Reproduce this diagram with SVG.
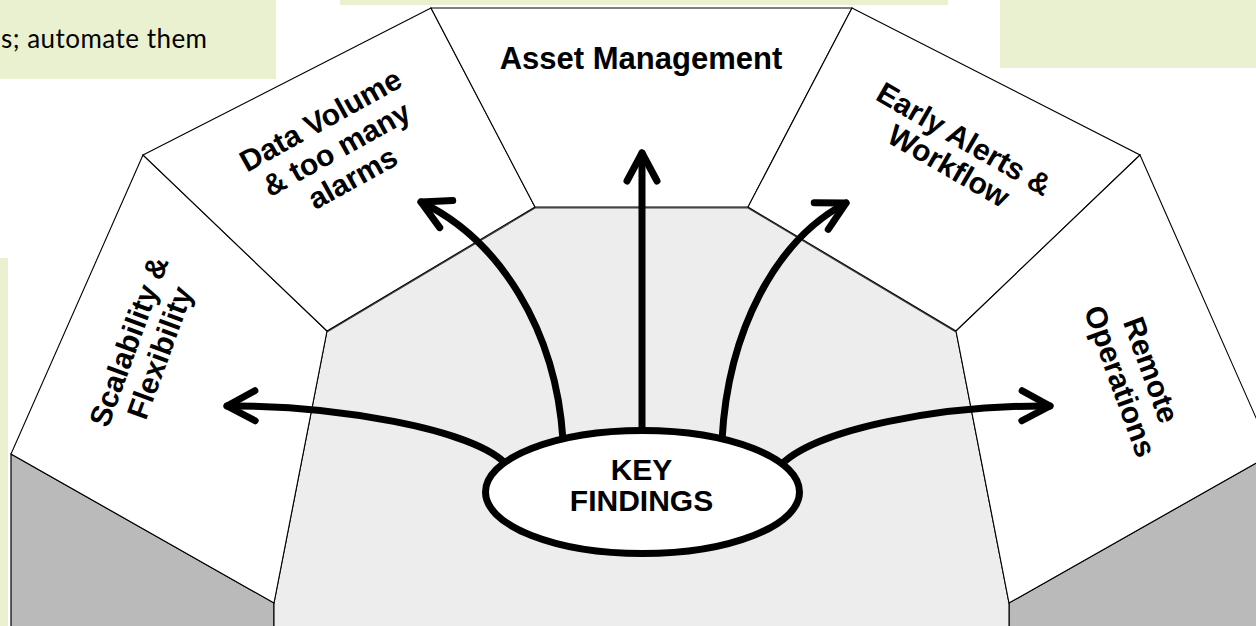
<svg xmlns="http://www.w3.org/2000/svg" width="1256" height="626" viewBox="0 0 1256 626">
  <defs>
    <style>
      .note { fill: #EAF1D0; }
      .note-text { font-family: Lato, "Open Sans", sans-serif; font-size: 26px; fill: #000; }
      .panel { fill: #fff; stroke: #000; stroke-width: 1.1; stroke-linejoin: miter; }
      .side { fill: #BABABA; stroke: #000; stroke-width: 1.2; }
      .floor { fill: #EDEDED; stroke: #000; stroke-width: 1.1; }
      .rim-dark { fill: none; stroke: #404040; stroke-width: 3; }
      .rim-light { fill: none; stroke: #cfcfcf; stroke-width: 1; }
      .label { font-family: "Liberation Sans", Arial, sans-serif; font-weight: bold; font-size: 30px; fill: #000; text-anchor: middle; }
      .arrow { fill: none; stroke: #000; stroke-width: 7; stroke-linecap: round; stroke-linejoin: round; marker-end: url(#head); }
      .hub { fill: #fff; stroke: #000; stroke-width: 7; }
    </style>
    <!-- open chevron arrowhead -->
    <marker id="head" markerUnits="userSpaceOnUse" orient="auto" overflow="visible" markerWidth="40" markerHeight="40" refX="0" refY="0">
      <path d="M-28,-15 L0,0 L-28,15" fill="none" stroke="#000" stroke-width="7" stroke-linecap="round" stroke-linejoin="round"/>
    </marker>
  </defs>

  <!-- note boxes in the background -->
  <g id="notes">
    <rect class="note" x="0" y="0" width="276" height="79"/>
    <text class="note-text" x="1" y="47.5" textLength="206" lengthAdjust="spacing">s; automate them</text>
    <rect class="note" x="340" y="0" width="608" height="5"/>
    <rect class="note" x="1000" y="0" width="256" height="68"/>
    <rect class="note" x="0" y="258" width="8" height="368"/>
  </g>

  <!-- octagonal base: side faces and inner floor -->
  <g id="base">
    <path class="side" d="M11,454 L274,603 L274,632 L11,632 Z"/>
    <path class="side" d="M1272,454 L1009,603 L1009,632 L1272,632 Z"/>
    <path class="floor" d="M274,632 L274,603 L327,331 L535,207 L748,207 L956,331 L1009,603 L1009,632 Z"/>
    <polyline class="rim-dark" points="327,331 535,207 748,207 956,331"/>
    <polyline class="rim-light" points="327,331 535,207 748,207 956,331"/>
  </g>

  <g id="scalability">
    <path class="panel" d="M143,155 L327,331 L274,603 L11,454 Z"/>
    <g transform="translate(138.5,345) rotate(-70)">
      <text class="label" x="0" y="0">Scalability &amp;</text>
      <text class="label" x="0" y="33">Flexibility</text>
    </g>
  </g>

  <g id="data-volume">
    <path class="panel" d="M143,155 L431,8 L535,207 L327,331 Z"/>
    <g transform="translate(341.5,158) rotate(-29)">
      <text class="label" x="0" y="-33">Data Volume</text>
      <text class="label" x="0" y="0">&amp; too many</text>
      <text class="label" x="0" y="33">alarms</text>
    </g>
  </g>

  <g id="asset-management">
    <path class="panel" d="M431,8 L852,8 L748,207 L535,207 Z"/>
    <text class="label" x="641" y="69" style="font-size:31px">Asset Management</text>
  </g>

  <g id="early-alerts">
    <path class="panel" d="M852,8 L1140,155 L956,331 L748,207 Z"/>
    <g transform="translate(959,148) rotate(30)">
      <text class="label" x="0" y="0">Early Alerts &amp;</text>
      <text class="label" x="0" y="31">Workflow</text>
    </g>
  </g>

  <g id="remote-operations">
    <path class="panel" d="M1140,155 L1272,454 L1009,603 L956,331 Z"/>
    <g transform="translate(1141.5,373.5) rotate(70)">
      <text class="label" x="0" y="0">Remote</text>
      <text class="label" x="0" y="33">Operations</text>
    </g>
  </g>

  <!-- connectors radiating from the hub -->
  <g id="connectors">
    <path class="arrow" d="M508,466 C475,428 330,405 227,406"/>
    <path class="arrow" d="M563,440 C556,330 500,240 421,202"/>
    <path class="arrow" d="M642,436 L642,153"/>
    <path class="arrow" d="M722,440 C728,330 776,240 846,203"/>
    <path class="arrow" d="M778,468 C812,428 945,405 1050,406"/>
  </g>

  <g id="key-findings">
    <ellipse class="hub" cx="642.5" cy="492" rx="157" ry="61.5"/>
    <text class="label" x="641.5" y="480">KEY</text>
    <text class="label" x="641.5" y="511">FINDINGS</text>
  </g>
</svg>
